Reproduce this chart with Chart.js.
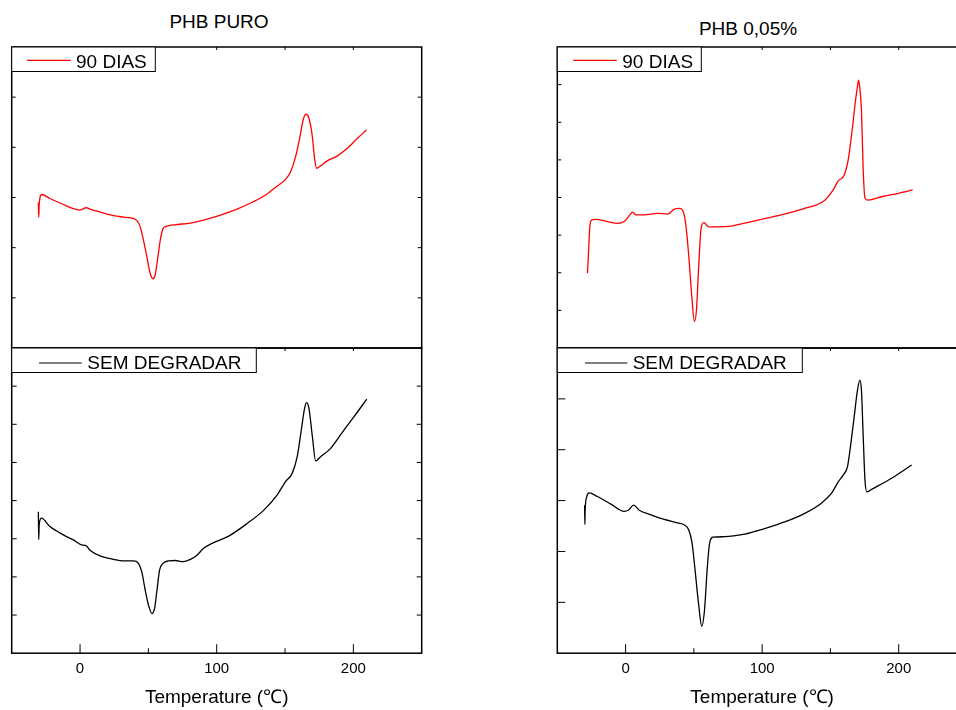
<!DOCTYPE html>
<html>
<head>
<meta charset="utf-8">
<script src="https://cdn.jsdelivr.net/npm/chart.js@4.4.1/dist/chart.umd.min.js"></script>
<style>
  body { margin: 0; background: #fff; }
  #page {
    position: relative;
    width: 956px;
    height: 710px;
    overflow: hidden;
    font-family: "Liberation Sans", Arial, sans-serif;
    color: #000;
  }
  #page canvas { position: absolute; }
  .title {
    position: absolute;
    font-size: 19px;
    white-space: nowrap;
    transform: translate(-50%, -50%);
  }
</style>
</head>
<body>
<div id="page">
  <div class="title" style="left:219px; top:22px;">PHB PURO</div>
  <div class="title" style="left:748px; top:29px;">PHB 0,05%</div>
  <canvas id="puroTop" width="440" height="360" style="left:0; top:0;"></canvas>
  <canvas id="puroBottom" width="440" height="371" style="left:0; top:340px;"></canvas>
  <canvas id="blendTop" width="440" height="360" style="left:540px; top:0;"></canvas>
  <canvas id="blendBottom" width="440" height="371" style="left:540px; top:340px;"></canvas>
</div>

<script>
// tick values of the temperature axis
var xMajorTicks = [0, 100, 200];
var xMinorTicks = [50, 150];

// PHB PURO - 90 DIAS (red)
var puro90Temp = [-30.5, -30.2, -29.9, -28.1, -22, -12.2, -4.9, -0.5, 2, 4.4, 7.3, 14.7, 24.4, 31.8, 37.9, 41.6, 44, 46.4, 48.9, 51.3, 53.3, 55, 57, 58.7, 60.6, 63.6, 70.9, 80.7, 90.4, 102.7, 114.9, 127.1, 136.9, 144.3, 150.4, 154, 157.7, 160.9, 163.3, 165.3, 167.5, 170, 171.6, 173.1, 176, 180.9, 188.3, 195.6, 203, 209.6];
var puro90Flow = [2.90, 2.61, 2.85, 3.06, 2.98, 2.86, 2.78, 2.75, 2.77, 2.80, 2.77, 2.71, 2.64, 2.61, 2.59, 2.54, 2.42, 2.15, 1.82, 1.49, 1.38, 1.46, 1.82, 2.15, 2.37, 2.43, 2.46, 2.49, 2.55, 2.65, 2.77, 2.92, 3.07, 3.23, 3.36, 3.51, 3.81, 4.21, 4.55, 4.66, 4.58, 4.21, 3.78, 3.58, 3.63, 3.73, 3.83, 3.98, 4.18, 4.35];

// PHB PURO - SEM DEGRADAR (black)
var puro0Temp = [-30.5, -30.2, -29.9, -28.3, -22, -12.2, -4.9, 1.2, 4.4, 7.3, 14.7, 24.4, 31.8, 39.1, 42.8, 45.2, 47.7, 50.1, 52.6, 54.5, 56.3, 58.2, 60.6, 64.8, 69.7, 75.3, 80.7, 85.6, 90.4, 96.6, 108.8, 122.3, 134.5, 144.3, 150.4, 155.3, 158.9, 161.9, 164.3, 165.8, 167.5, 170, 172.4, 176, 183.4, 193.1, 200.5, 209.8];
var puro0Flow = [3.71, 2.98, 3.36, 3.54, 3.32, 3.10, 2.97, 2.84, 2.82, 2.70, 2.55, 2.46, 2.42, 2.42, 2.35, 2.13, 1.65, 1.26, 1.04, 1.17, 1.65, 2.18, 2.35, 2.42, 2.43, 2.40, 2.46, 2.57, 2.75, 2.88, 3.07, 3.40, 3.75, 4.15, 4.50, 4.72, 5.15, 5.85, 6.42, 6.57, 6.42, 5.68, 5.04, 5.15, 5.37, 5.85, 6.20, 6.66];

// PHB 0,05% - 90 DIAS (red)
var blend90Temp = [-27.9, -27.4, -26.2, -25, -21.8, -13.2, -5.9, -1, 2.7, 5.1, 7.6, 13.7, 23.5, 30.8, 35.7, 39.4, 42.6, 44.3, 46.3, 48.5, 50.4, 51.9, 53.4, 55.3, 57.3, 58.5, 60.7, 67.5, 77.3, 92, 111.6, 131.2, 145.9, 152, 155.7, 160.1, 163, 165.9, 168.4, 169.8, 170.6, 171.4, 172.7, 174, 175.3, 177.7, 187.4, 199.7, 210.2];
var blend90Flow = [1.99, 2.34, 3.22, 3.40, 3.42, 3.36, 3.31, 3.36, 3.52, 3.61, 3.54, 3.54, 3.58, 3.56, 3.69, 3.71, 3.58, 3.22, 2.43, 1.36, 0.70, 1.01, 2.07, 3.18, 3.33, 3.30, 3.22, 3.22, 3.24, 3.36, 3.52, 3.71, 3.93, 4.20, 4.44, 4.60, 5.00, 5.79, 6.59, 6.95, 7.12, 6.95, 6.33, 4.73, 3.98, 3.93, 4.02, 4.11, 4.20];

// PHB 0,05% - SEM DEGRADAR (black)
var blend0Temp = [-30.0, -29.8, -29.6, -28.5, -26.8, -20.6, -10.8, -1, 2, 5.9, 10, 18.6, 28.4, 38.2, 43.1, 46.3, 48.7, 50.9, 53.4, 55.8, 57.8, 59.7, 61.5, 63.9, 72.5, 87.1, 101.8, 116.5, 131.2, 143.4, 150.7, 155.7, 159.3, 162.5, 165, 167.4, 169.8, 171.6, 172.7, 174, 175.3, 176.7, 180.1, 194.8, 209.5];
var blend0Flow = [2.91, 2.53, 2.81, 3.07, 3.15, 3.08, 2.93, 2.79, 2.81, 2.91, 2.81, 2.72, 2.63, 2.56, 2.52, 2.42, 2.16, 1.63, 0.98, 0.53, 0.85, 1.63, 2.16, 2.28, 2.29, 2.34, 2.45, 2.58, 2.75, 2.95, 3.14, 3.37, 3.50, 3.67, 4.13, 4.65, 5.17, 5.37, 5.17, 4.26, 3.40, 3.17, 3.22, 3.44, 3.70];

var fontFamily = '"Liberation Sans", Arial, sans-serif';

function toPoints(temps, flows) {
  var pts = [];
  for (var i = 0; i < temps.length; i++) {
    pts.push({ x: temps[i], y: flows[i] });
  }
  return pts;
}

// frame with inward ticks + boxed legend inside the plot
var framePlugin = {
  id: "frame",
  afterDatasetsDraw: function (chart, args, opts) {
    var ctx = chart.ctx;
    var a = chart.chartArea;
    var xs = chart.scales.x;
    var ys = chart.scales.y;
    var i, p;

    ctx.save();
    ctx.strokeStyle = "#000";
    ctx.lineWidth = 1;
    ctx.beginPath();
    for (var v = ys.min + opts.yStep; v < ys.max - 1e-6; v += opts.yStep) {
      p = ys.getPixelForValue(v);
      ctx.moveTo(a.left, p);
      ctx.lineTo(a.left + opts.yTick, p);
      ctx.moveTo(a.right, p);
      ctx.lineTo(a.right - opts.yTick, p);
    }
    if (opts.bottomTicks) {
      for (i = 0; i < xMajorTicks.length; i++) {
        p = xs.getPixelForValue(xMajorTicks[i]);
        ctx.moveTo(p, a.bottom);
        ctx.lineTo(p, a.bottom - 9);
      }
      for (i = 0; i < xMinorTicks.length; i++) {
        p = xs.getPixelForValue(xMinorTicks[i]);
        ctx.moveTo(p, a.bottom);
        ctx.lineTo(p, a.bottom - 5);
      }
    }
    var topTicks = xMajorTicks.concat(xMinorTicks);
    for (i = 0; i < topTicks.length; i++) {
      p = xs.getPixelForValue(topTicks[i]);
      ctx.moveTo(p, a.top);
      ctx.lineTo(p, a.top + 3);
    }
    ctx.stroke();

    ctx.lineWidth = 1.5;
    ctx.strokeRect(a.left, a.top, a.right - a.left, a.bottom - a.top);

    // legend box
    var ds = chart.data.datasets[0];
    var lg = opts.legend;
    ctx.fillStyle = "#fff";
    ctx.fillRect(a.left, a.top, lg.width, 24.5);
    ctx.lineWidth = 1;
    ctx.strokeRect(a.left, a.top, lg.width, 24.5);
    ctx.strokeStyle = ds.borderColor;
    ctx.lineWidth = 1.2;
    ctx.beginPath();
    ctx.moveTo(a.left + lg.lineFrom, a.top + lg.lineY);
    ctx.lineTo(a.left + lg.lineTo, a.top + lg.lineY);
    ctx.stroke();
    ctx.fillStyle = "#000";
    ctx.font = "19px " + fontFamily;
    ctx.textBaseline = "alphabetic";
    ctx.textAlign = "left";
    ctx.fillText(ds.label, a.left + lg.textX, a.top + lg.baseY);
    ctx.restore();
  },
};

function makePanel(id, label, color, temps, flows, yMax, yTick, bottom, pad, legend) {
  var xScale = {
    type: "linear",
    min: -50,
    max: 250,
    display: bottom,
    grid: { display: false, drawTicks: false, tickLength: 0 },
    border: { display: false },
    afterBuildTicks: function (axis) {
      axis.ticks = xMajorTicks.map(function (v) { return { value: v }; });
    },
    ticks: {
      color: "#000",
      padding: 7,
      font: { size: 15, family: fontFamily },
    },
    title: {
      display: true,
      text: "Temperature (\u2103)",
      color: "#000",
      padding: { top: 1, bottom: 2 },
      font: { size: 19, family: fontFamily },
    },
  };

  return new Chart(document.getElementById(id).getContext("2d"), {
    type: "line",
    data: {
      datasets: [
        {
          label: label,
          data: toPoints(temps, flows),
          borderColor: color,
          backgroundColor: color,
          borderWidth: 1.3,
          pointRadius: 0,
          cubicInterpolationMode: "monotone",
          fill: false,
        },
      ],
    },
    options: {
      responsive: false,
      animation: false,
      events: [],
      layout: { padding: pad },
      scales: {
        x: xScale,
        y: { display: false, min: 0, max: yMax },
      },
      plugins: {
        legend: { display: false },
        tooltip: { enabled: false },
        frame: { yStep: 1, yTick: yTick, bottomTicks: bottom, legend: legend },
      },
    },
    plugins: [framePlugin],
  });
}

var legend90Left = { width: 143.6, lineFrom: 15.3, lineTo: 59, lineY: 13.3, textX: 64.3, baseY: 20.7 };
var legendSemLeft = { width: 244.6, lineFrom: 27.3, lineTo: 70, lineY: 15, textX: 75.6, baseY: 21 };
var legend90Right = { width: 144, lineFrom: 16, lineTo: 59.4, lineY: 13.3, textX: 65, baseY: 20.7 };
var legendSemRight = { width: 245, lineFrom: 27.7, lineTo: 70, lineY: 15, textX: 75.4, baseY: 21 };

makePanel("puroTop", "90 DIAS", "#ff0000", puro90Temp, puro90Flow, 6, 4, false,
  { left: 11.7, right: 18.3, top: 47, bottom: 12 }, legend90Left);
makePanel("puroBottom", "SEM DEGRADAR", "#000000", puro0Temp, puro0Flow, 8, 5, true,
  { left: 11.7, right: 18.3, top: 8, bottom: 0 }, legendSemLeft);
makePanel("blendTop", "90 DIAS", "#ff0000", blend90Temp, blend90Flow, 8, 4, false,
  { left: 17.3, right: 13, top: 47, bottom: 12 }, legend90Right);
makePanel("blendBottom", "SEM DEGRADAR", "#000000", blend0Temp, blend0Flow, 6, 8, true,
  { left: 17.3, right: 13, top: 8, bottom: 0 }, legendSemRight);
</script>
</body>
</html>
